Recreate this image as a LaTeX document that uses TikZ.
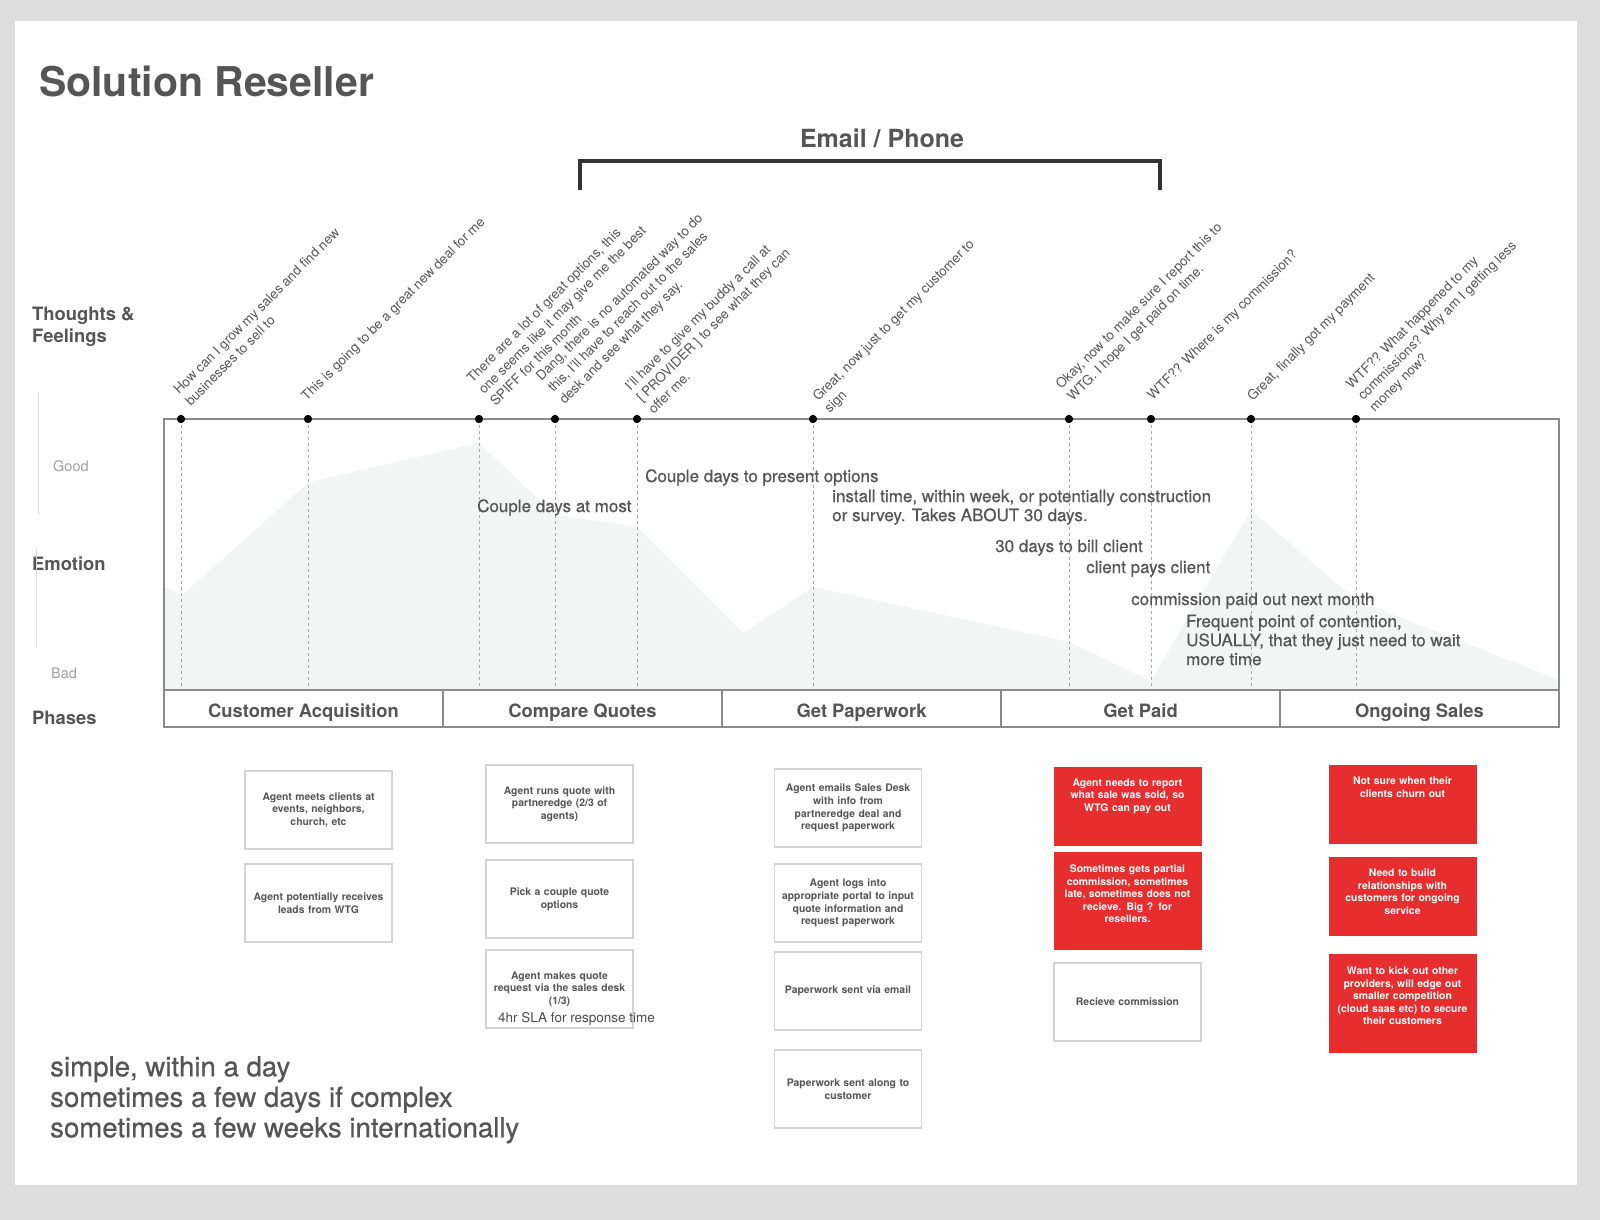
\documentclass[tikz,border=0pt]{standalone}
\usepackage{fontspec}
\setmainfont{TeX Gyre Heros}
\newfontfamily\medfont{TeX Gyre Heros}[FakeBold=0.5]
\definecolor{bggray}{HTML}{DEDEDE}
\definecolor{ink}{HTML}{555555}
\definecolor{soft}{HTML}{A0A0A0}
\definecolor{frame}{HTML}{8A8A8A}
\definecolor{dashc}{HTML}{A8A8A8}
\definecolor{emofill}{HTML}{F3F4F4}
\definecolor{alert}{HTML}{E52E2D}
\definecolor{cardline}{HTML}{D4D4D4}
\definecolor{bracketc}{HTML}{333333}
\definecolor{guide}{HTML}{DDDDDD}
\newcommand{\fsz}[2]{\fontsize{#1}{#2}\selectfont}
\tikzset{
  thought/.style={rotate=45, anchor=south west, inner sep=0pt, align=left, text=ink, font=\fsz{13.4}{16.5}},
  note/.style={anchor=base west, inner sep=0pt, align=left, text=ink, font=\medfont\fsz{17}{19}},
  notemulti/.style={anchor=north west, inner sep=0pt, align=left, text=ink, font=\medfont\fsz{17}{19}},
  card/.style={draw=cardline, fill=white, line width=1.2pt, minimum width=147pt, minimum height=78pt, inner sep=0pt, text width=138pt, align=center, text=ink, font=\bfseries\fsz{10.4}{12.6}},
  redcard/.style={draw=alert, fill=alert, line width=1pt, minimum width=147pt, minimum height=78pt, inner sep=0pt},
  redtext/.style={anchor=north, inner sep=0pt, text width=140pt, align=center, text=white, font=\bfseries\fsz{10.4}{12.6}},
  phase/.style={draw=frame, line width=1.3pt, minimum width=279pt, minimum height=37pt, inner sep=0pt, text height=19pt, text depth=2pt, text=ink, font=\bfseries\fsz{18.4}{22}},
  tdot/.style={circle, fill=black, inner sep=0pt, minimum size=8pt},
  dashline/.style={draw=dashc, line width=0.8pt, dash pattern=on 3pt off 3pt},
  side/.style={anchor=base west, inner sep=0pt, align=left, text=ink, font=\bfseries\fsz{18.4}{22}},
  scalelbl/.style={anchor=base west, inner sep=0pt, text=soft, font=\fsz{14.5}{17}}
}
\begin{document}
\begin{tikzpicture}[x=1pt,y=-1pt]
\useasboundingbox (0,0) rectangle (1600,1220);
\fill[bggray] (0,0) rectangle (1600,1220);
\fill[white] (15,21) rectangle (1577,1185);

% title
\node[anchor=base west, inner sep=0pt, text=ink, font=\bfseries\fsz{41}{48}] (title) at (39,97) {Solution Reseller};

% channel bracket
\node[anchor=base, inner sep=0pt, text=ink, font=\bfseries\fsz{25}{30}] (chan) at (882,147) {Email / Phone};
\draw[bracketc, line width=3.5pt] (580,190) -- (580,161) -- (1160,161) -- (1160,190);

% side labels
\node[anchor=north west, inner sep=0pt, align=left, text=ink, font=\bfseries\fsz{18.4}{22}] (thoughtslbl) at (32,306.5) {Thoughts \&\\Feelings};
\node[side] (emolbl) at (32,570) {Emotion};
\node[side] (phaselbl) at (32,724.5) {Phases};
\node[scalelbl] (good) at (53,471) {Good};
\node[scalelbl] (bad) at (51,678) {Bad};
\draw[guide, line width=1pt] (38,392) -- (38,515);
\draw[guide, line width=1pt] (36,548) -- (36,648);

% emotion curve
\fill[emofill] (164,690) -- (164,586) -- (181,596) -- (309,482) -- (479,443) -- (555,515) -- (637,527) -- (743,633) -- (813,587) -- (1069,642) -- (1151,681) -- (1251,510) -- (1356,600) -- (1559,680) -- (1559,690) -- cycle;

% touchpoints
\coordinate (emobot) at (0,690);
\foreach \n/\x in {t1/181, t2/308, t3/479, t4/555, t5/637, t6/813, t7/1069, t8/1151, t9/1251, t10/1356}{
  \node[tdot] (\n) at (\x,419) {};
  \draw[dashline] (\n.center) -- (\n.center |- emobot);
}

% chart frame
\draw[frame, line width=1.3pt] (164,419) rectangle (1559,690);
\node[phase] (ph1) at (303.5,708.5) {Customer Acquisition};
\node[phase] (ph2) at (582.5,708.5) {Compare Quotes};
\node[phase] (ph3) at (861.5,708.5) {Get Paperwork};
\node[phase] (ph4) at (1140.5,708.5) {Get Paid};
\node[phase] (ph5) at (1419.5,708.5) {Ongoing Sales};
\foreach \n in {t1,t2,t3,t4,t5,t6,t7,t8,t9,t10}{
  \node[tdot] at (\n) {};
}

% thoughts
\node[thought] (th1) at (191,407) {How can I grow my sales and find new\\businesses to sell to};
\node[thought] (th2) at (309,404) {This is going to be a great new deal for me};
\node[thought] (th3) at (496,407) {There are a lot of great options, this\\one seems like it may give me the best\\SPIFF for this month};
\node[thought] (th4) at (567,407) {Dang, there is no automated way to do\\this, I'll have to reach out to the sales\\desk and see what they say.};
\node[thought] (th5) at (654,415) {I'll have to give my buddy a call at\\{[} PROVIDER ] to see what they can\\offer me.};
\node[thought] (th6) at (832,416) {Great, now just to get my customer to\\sign};
\node[thought] (th7) at (1075,404) {Okay, now to make sure I report this to\\WTG. I hope I get paid on time.};
\node[thought] (th8) at (1155,403) {WTF?? Where is my commission?};
\node[thought] (th9) at (1255,404) {Great, finally got my payment};
\node[thought] (th10) at (1377,415) {WTF?? What happened to my\\commissions? Why am I getting less\\money now?};

% annotations
\node[note] (n1) at (477,512) {Couple days at most};
\node[note] (n2) at (645,482) {Couple days to present options};
\node[notemulti] (n3) at (832,489.5) {install time, within week, or potentially construction\\or survey. Takes ABOUT 30 days.};
\node[note] (n4) at (995,552) {30 days to bill client};
\node[note] (n5) at (1086,573) {client pays client};
\node[note] (n6) at (1131,605) {commission paid out next month};
\node[notemulti] (n7) at (1186,614.5) {Frequent point of contention,\\USUALLY, that they just need to wait\\more time};

% cards: customer acquisition
\node[card] (a1) at (318.5,810) {Agent meets clients at\\events, neighbors,\\church, etc};
\node[card] (a2) at (318.5,903) {Agent potentially receives\\leads from WTG};
% compare quotes
\node[card] (b1) at (559.5,804) {Agent runs quote with\\partneredge (2/3 of\\agents)};
\node[card] (b2) at (559.5,899) {Pick a couple quote\\options};
\node[card] (b3) at (559.5,989) {Agent makes quote\\request via the sales desk\\(1/3)};
\node[anchor=base west, inner sep=0pt, text=ink!90!black, font=\fsz{13.5}{16}] (sla) at (498,1022) {4hr SLA for response time};
% get paperwork
\node[card] (c1) at (848,808) {Agent emails Sales Desk\\with info from\\partneredge deal and\\request paperwork};
\node[card] (c2) at (848,903) {Agent logs into\\appropriate portal to input\\quote information and\\request paperwork};
\node[card] (c3) at (848,991) {Paperwork sent via email};
\node[card] (c4) at (848,1089) {Paperwork sent along to\\customer};
% get paid
\node[redcard] (d1) at (1127.5,806) {};
\node[redtext] (d1t) at ([yshift=-12pt]d1.north) {Agent needs to report\\what sale was sold, so\\WTG can pay out};
\node[redcard, minimum height=97pt] (d2) at (1127.5,900.5) {};
\node[redtext] (d2t) at ([yshift=-13pt]d2.north) {Sometimes gets partial\\commission, sometimes\\late, sometimes does not\\recieve. Big ? for\\resellers.};
\node[card] (d3) at (1127.5,1002) {Recieve commission};
% ongoing sales
\node[redcard] (e1) at (1402.5,804) {};
\node[redtext] (e1t) at ([yshift=-12pt]e1.north) {Not sure when their\\clients churn out};
\node[redcard] (e2) at (1402.5,896) {};
\node[redtext] (e2t) at ([yshift=-12pt]e2.north) {Need to build\\relationships with\\customers for ongoing\\service};
\node[redcard, minimum height=98pt] (e3) at (1402.5,1003) {};
\node[redtext] (e3t) at ([yshift=-13pt]e3.north) {Want to kick out other\\providers, will edge out\\smaller competition\\(cloud saas etc) to secure\\their customers};

% bottom note
\node[anchor=north west, inner sep=0pt, align=left, text=ink, font=\medfont\fsz{27.6}{30.5}] (timing) at (50,1056) {simple, within a day\\sometimes a few days if complex\\sometimes a few weeks internationally};
\end{tikzpicture}
\end{document}
